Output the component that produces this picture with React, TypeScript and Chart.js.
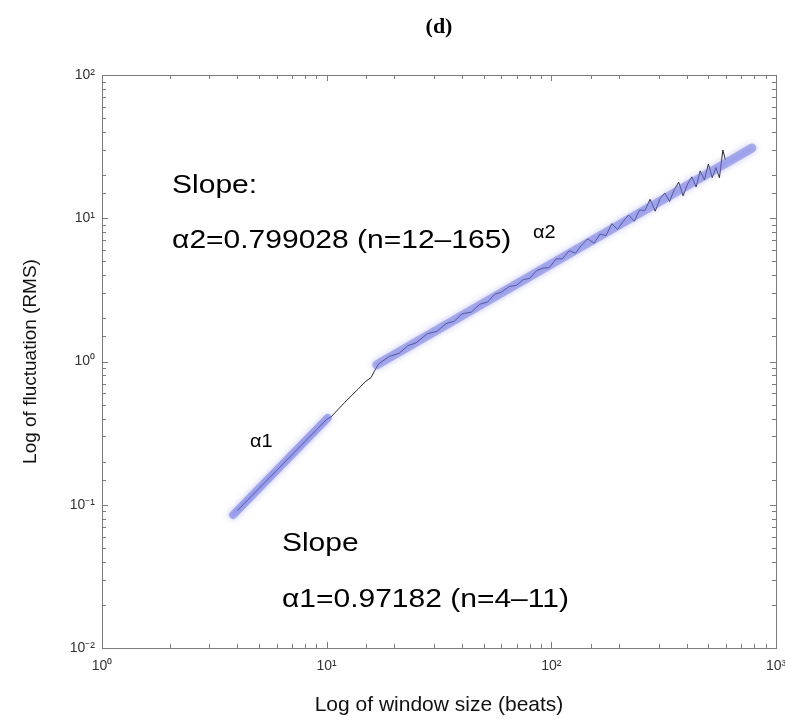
import React, { useEffect, useRef } from 'react';
import { Chart, registerables } from 'chart.js';

Chart.register(...registerables);

// ---- data ----
const alpha1X = [3.83, 10.1];
const alpha1Y = [0.0848, 0.403];
const alpha2X = [16.7, 781];
const alpha2Y = [0.946, 30.9];

const dfaX = [4, 5, 6, 7, 8, 9, 10, 10.45, 12.06, 13.78, 14.96, 15.74, 16.4, 17, 19, 21, 23, 25, 28, 31, 34, 37, 40, 44, 48, 52, 56, 60, 65, 70, 75, 80, 86, 92, 98, 105, 112, 120, 128, 136, 145, 155, 165, 175, 186, 197, 209, 221, 234, 247, 261, 275, 290, 305, 320, 336, 352, 369, 386, 404, 422, 441, 460, 480, 500, 520, 540, 560, 580, 595];
const dfaY = [0.091, 0.13, 0.174, 0.223, 0.276, 0.333, 0.394, 0.41, 0.52, 0.64, 0.73, 0.77, 0.87, 0.96, 1.085, 1.14, 1.29, 1.35, 1.56, 1.625, 1.84, 1.91, 2.15, 2.21, 2.51, 2.6, 2.95, 3.05, 3.34, 3.4, 3.73, 3.8, 4.31, 4.49, 4.52, 5.21, 5.21, 5.94, 5.7, 6.46, 7.18, 6.7, 7.77, 7.56, 9.17, 8.33, 9.54, 10.53, 9.53, 11.42, 11.33, 13.55, 11.21, 13.71, 15.0, 13.09, 15.75, 17.85, 14.35, 17.34, 19.45, 16.56, 21.41, 18.48, 23.92, 19.23, 22.56, 19.2, 29.97, 25.65];

const xTickValues = [1, 10, 100, 1000];
const xTickLabels = ['10⁰', '10¹', '10²', '10³'];
const yTickValues = [0.01, 0.1, 1, 10, 100];
const yTickLabels = ['10⁻²', '10⁻¹', '10⁰', '10¹', '10²'];

const noteTexts = ['Slope:', 'α2=0.799028 (n=12–165)', 'Slope', 'α1=0.97182 (n=4–11)', 'α1', 'α2'];
const noteX = [2.05, 2.05, 6.32, 6.32, 4.56, 82.8];
const noteY = [15.0, 6.2, 0.0475, 0.0193, 0.253, 7.28];
const noteSize = [25, 25, 25, 25, 19, 19];
const noteStretch = [1.2, 1.2, 1.2, 1.2, 1.05, 1.05];

const SANS = "'Liberation Sans', Arial, Helvetica, sans-serif";

const pts = (xs: number[], ys: number[]) => xs.map((x, i) => ({ x, y: ys[i] }));

const labelFor = (values: number[], labels: string[]) => (v: any) => {
  const n = Number(v);
  const i = values.findIndex((t) => Math.abs(t - n) / t < 1e-6);
  return i >= 0 ? labels[i] : '';
};

const isDecade = (v: number) => Math.abs(Math.log10(v) - Math.round(Math.log10(v))) < 1e-6;

const framePlugin = {
  id: 'frame',
  afterDatasetsDraw(chart: any) {
    const { ctx, chartArea: a, scales } = chart;
    ctx.save();
    ctx.strokeStyle = '#7c7c7c';
    ctx.lineWidth = 1;
    ctx.strokeRect(Math.round(a.left) + 0.5, Math.round(a.top) + 0.5, Math.round(a.right - a.left), Math.round(a.bottom - a.top));
    ctx.beginPath();
    for (const t of scales.x.ticks) {
      const px = Math.round(scales.x.getPixelForValue(t.value)) + 0.5;
      const len = isDecade(t.value) ? 6 : 4;
      ctx.moveTo(px, a.bottom);
      ctx.lineTo(px, a.bottom - len);
      ctx.moveTo(px, a.top);
      ctx.lineTo(px, a.top + len);
    }
    for (const t of scales.y.ticks) {
      const py = Math.round(scales.y.getPixelForValue(t.value)) + 0.5;
      const len = isDecade(t.value) ? 6 : 4;
      ctx.moveTo(a.left, py);
      ctx.lineTo(a.left + len, py);
      ctx.moveTo(a.right, py);
      ctx.lineTo(a.right - len, py);
    }
    ctx.stroke();
    ctx.restore();
  },
};

const glowPlugin = {
  id: 'glow',
  beforeDatasetDraw(chart: any, args: any) {
    const ds = chart.data.datasets[args.index];
    if (ds.glow) {
      chart.ctx.save();
      chart.ctx.shadowColor = 'rgba(100,105,230,0.75)';
      chart.ctx.shadowBlur = 6;
    }
  },
  afterDatasetDraw(chart: any, args: any) {
    const ds = chart.data.datasets[args.index];
    if (ds.glow) chart.ctx.restore();
  },
};

const notesPlugin = {
  id: 'notes',
  afterDraw(chart: any) {
    const { ctx, scales } = chart;
    noteTexts.forEach((txt, i) => {
      const px = scales.x.getPixelForValue(noteX[i]);
      const py = scales.y.getPixelForValue(noteY[i]);
      ctx.save();
      ctx.translate(px, py);
      ctx.scale(noteStretch[i], 1);
      ctx.font = `${noteSize[i]}px ${SANS}`;
      ctx.fillStyle = '#000';
      ctx.textAlign = 'left';
      ctx.textBaseline = 'alphabetic';
      ctx.fillText(txt, 0, 0);
      ctx.restore();
    });
  },
};

export default function App() {
  const ref = useRef<HTMLCanvasElement | null>(null);

  useEffect(() => {
    if (!ref.current) return;
    const chart = new Chart(ref.current, {
      type: 'scatter',
      data: {
        datasets: [
          {
            label: 'α1 fit',
            data: pts(alpha1X, alpha1Y),
            showLine: true,
            borderColor: 'rgba(110,115,222,0.55)',
            borderWidth: 8,
            borderCapStyle: 'round',
            pointRadius: 0,
            order: 1,
            glow: true,
          } as any,
          {
            label: 'α2 fit',
            data: pts(alpha2X, alpha2Y),
            showLine: true,
            borderColor: 'rgba(110,115,222,0.5)',
            borderWidth: 9,
            borderCapStyle: 'round',
            pointRadius: 0,
            order: 1,
            glow: true,
          } as any,
          {
            label: 'F(n)',
            data: pts(dfaX, dfaY),
            showLine: true,
            borderColor: '#2a2a2a',
            borderWidth: 1,
            pointRadius: 0,
            tension: 0,
            order: 2,
          },
        ],
      },
      options: {
        animation: false,
        responsive: true,
        maintainAspectRatio: false,
        layout: { padding: { left: 0, right: 9, top: 0, bottom: 0 } },
        plugins: {
          legend: { display: false },
          tooltip: { enabled: false },
          title: {
            display: true,
            text: '(d)',
            fullSize: false,
            color: '#000',
            font: { family: "'Liberation Serif', 'Times New Roman', serif", size: 22, weight: 'bold' },
            padding: { top: 14, bottom: 34.6 },
          },
        },
        scales: {
          x: {
            type: 'logarithmic',
            min: 1,
            max: 1000,
            grid: { display: false, drawTicks: false },
            border: { display: false },
            ticks: {
              autoSkip: false,
              maxRotation: 0,
              padding: 10,
              color: '#333',
              font: { family: SANS, size: 14 },
              callback: labelFor(xTickValues, xTickLabels),
            },
            title: {
              display: true,
              text: 'Log of window size (beats)',
              color: '#111',
              font: { family: SANS, size: 21 },
              padding: { top: 0, bottom: 4 },
            },
            afterFit: (s: any) => {
              s.height = 74;
              s.paddingLeft = 0;
              s.paddingRight = 0;
            },
          },
          y: {
            type: 'logarithmic',
            min: 0.01,
            max: 100,
            grid: { display: false, drawTicks: false },
            border: { display: false },
            ticks: {
              autoSkip: false,
              padding: 7,
              color: '#333',
              font: { family: SANS, size: 14 },
              callback: labelFor(yTickValues, yTickLabels),
            },
            title: {
              display: true,
              text: 'Log of fluctuation (RMS)',
              color: '#111',
              font: { family: SANS, size: 19 },
              padding: { top: 19, bottom: 0 },
            },
            afterFit: (s: any) => {
              s.width = 102;
              s.paddingTop = 0;
              s.paddingBottom = 0;
            },
          },
        },
      } as any,
      plugins: [framePlugin, glowPlugin, notesPlugin],
    });
    return () => chart.destroy();
  }, []);

  return (
    <div style={{ position: 'absolute', left: 0, top: 0, width: 785, height: 722, background: '#fff' }}>
      <canvas ref={ref} />
    </div>
  );
}
